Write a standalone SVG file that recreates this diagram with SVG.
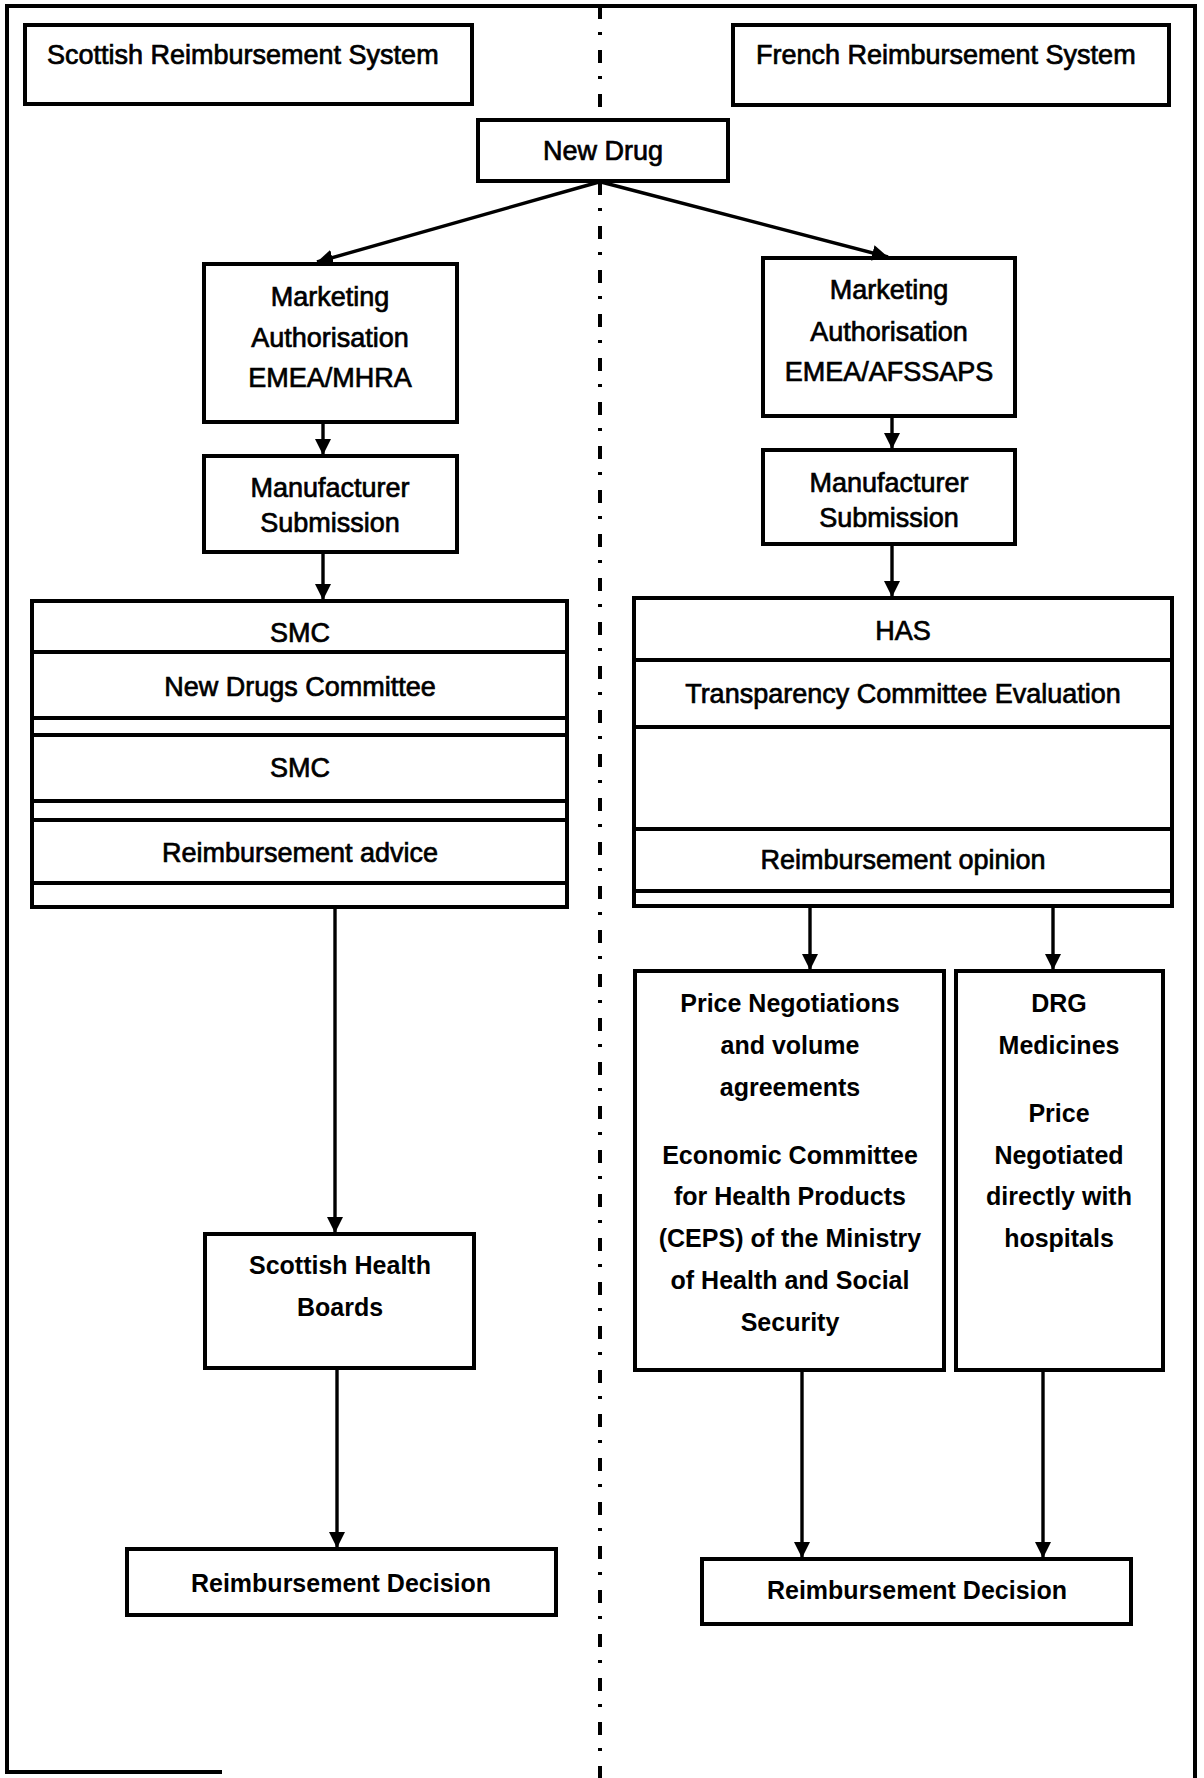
<svg xmlns="http://www.w3.org/2000/svg" width="1204" height="1778" viewBox="0 0 1204 1778">
<defs>
<marker id="ah" markerUnits="userSpaceOnUse" markerWidth="17" markerHeight="16" refX="16" refY="8" orient="auto">
<path d="M0,0 L16,8 L0,16 z" fill="#000"/>
</marker>
<style>
.bx{fill:#fff;stroke:#000;stroke-width:4}
.ln{stroke:#000;stroke-width:4;fill:none}
.t{font-family:"Liberation Sans",Arial,sans-serif;font-size:27px;fill:#000;stroke:#000;stroke-width:0.7;text-anchor:middle}
.ts{font-family:"Liberation Sans",Arial,sans-serif;font-size:27px;fill:#000;stroke:#000;stroke-width:0.7}
.b{font-family:"Liberation Sans",Arial,sans-serif;font-size:25px;font-weight:bold;fill:#000;text-anchor:middle}
.c{stroke:#000;stroke-width:3.4;fill:none;marker-end:url(#ah)}
</style>
</defs>
<rect width="1204" height="1778" fill="#fff"/>
<path d="M222,1772 H7 V6 H1195 V1778" class="ln" stroke-width="3"/>
<line x1="600" y1="6" x2="600" y2="1778" stroke="#000" stroke-width="4" stroke-dasharray="13 13 3 15"/>

<g id="title-scottish">
<rect x="25" y="25" width="447" height="79" class="bx"/>
<text x="47" y="64" class="ts">Scottish Reimbursement System</text>
</g>
<g id="title-french">
<rect x="733" y="25" width="436" height="80" class="bx"/>
<text x="756" y="64" class="ts">French Reimbursement System</text>
</g>
<g id="new-drug">
<rect x="478" y="120" width="250" height="61" class="bx"/>
<text x="603" y="160" class="t">New Drug</text>
</g>

<g id="ma-scot">
<rect x="204" y="264" width="253" height="158" class="bx"/>
<text x="330" y="306" class="t">Marketing</text>
<text x="330" y="347" class="t">Authorisation</text>
<text x="330" y="387" class="t">EMEA/MHRA</text>
</g>
<g id="ma-fr">
<rect x="763" y="258" width="252" height="158" class="bx"/>
<text x="889" y="299" class="t">Marketing</text>
<text x="889" y="341" class="t">Authorisation</text>
<text x="889" y="381" class="t">EMEA/AFSSAPS</text>
</g>
<g id="ms-scot">
<rect x="204" y="456" width="253" height="96" class="bx"/>
<text x="330" y="497" class="t">Manufacturer</text>
<text x="330" y="532" class="t">Submission</text>
</g>
<g id="ms-fr">
<rect x="763" y="450" width="252" height="94" class="bx"/>
<text x="889" y="492" class="t">Manufacturer</text>
<text x="889" y="527" class="t">Submission</text>
</g>

<g id="smc">
<rect x="32" y="601" width="535" height="306" class="bx"/>
<line x1="32" y1="652" x2="567" y2="652" class="ln"/>
<line x1="32" y1="718" x2="567" y2="718" class="ln"/>
<line x1="32" y1="735" x2="567" y2="735" class="ln"/>
<line x1="32" y1="801" x2="567" y2="801" class="ln"/>
<line x1="32" y1="820" x2="567" y2="820" class="ln"/>
<line x1="32" y1="883" x2="567" y2="883" class="ln"/>
<text x="300" y="642" class="t">SMC</text>
<text x="300" y="696" class="t">New Drugs Committee</text>
<text x="300" y="777" class="t">SMC</text>
<text x="300" y="862" class="t">Reimbursement advice</text>
</g>

<g id="has">
<rect x="634" y="598" width="538" height="308" class="bx"/>
<line x1="634" y1="660" x2="1172" y2="660" class="ln"/>
<line x1="634" y1="727" x2="1172" y2="727" class="ln"/>
<line x1="634" y1="829" x2="1172" y2="829" class="ln"/>
<line x1="634" y1="891" x2="1172" y2="891" class="ln"/>
<text x="903" y="640" class="t">HAS</text>
<text x="903" y="703" class="t">Transparency Committee Evaluation</text>
<text x="903" y="869" class="t">Reimbursement opinion</text>
</g>

<g id="health-boards">
<rect x="205" y="1234" width="269" height="134" class="bx"/>
<text x="340" y="1274" class="b">Scottish Health</text>
<text x="340" y="1316" class="b">Boards</text>
</g>
<g id="decision-scot">
<rect x="127" y="1549" width="429" height="66" class="bx"/>
<text x="341" y="1592" class="b">Reimbursement Decision</text>
</g>

<g id="price-neg">
<rect x="635" y="971" width="309" height="399" class="bx"/>
<text x="790" y="1012" class="b">Price Negotiations</text>
<text x="790" y="1054" class="b">and volume</text>
<text x="790" y="1096" class="b">agreements</text>
<text x="790" y="1164" class="b">Economic Committee</text>
<text x="790" y="1205" class="b">for Health Products</text>
<text x="790" y="1247" class="b">(CEPS) of the Ministry</text>
<text x="790" y="1289" class="b">of Health and Social</text>
<text x="790" y="1331" class="b">Security</text>
</g>
<g id="drg">
<rect x="956" y="971" width="207" height="399" class="bx"/>
<text x="1059" y="1012" class="b">DRG</text>
<text x="1059" y="1054" class="b">Medicines</text>
<text x="1059" y="1122" class="b">Price</text>
<text x="1059" y="1164" class="b">Negotiated</text>
<text x="1059" y="1205" class="b">directly with</text>
<text x="1059" y="1247" class="b">hospitals</text>
</g>
<g id="decision-fr">
<rect x="702" y="1559" width="429" height="65" class="bx"/>
<text x="917" y="1599" class="b">Reimbursement Decision</text>
</g>

<g id="connectors">
<line x1="599" y1="182" x2="317" y2="262" class="c"/>
<line x1="601" y1="182" x2="888" y2="257" class="c"/>
<line x1="323" y1="422" x2="323" y2="455" class="c"/>
<line x1="892" y1="416" x2="892" y2="449" class="c"/>
<line x1="323" y1="552" x2="323" y2="600" class="c"/>
<line x1="892" y1="544" x2="892" y2="597" class="c"/>
<line x1="335" y1="907" x2="335" y2="1233" class="c"/>
<line x1="337" y1="1368" x2="337" y2="1548" class="c"/>
<line x1="810" y1="906" x2="810" y2="970" class="c"/>
<line x1="1053" y1="906" x2="1053" y2="970" class="c"/>
<line x1="802" y1="1370" x2="802" y2="1558" class="c"/>
<line x1="1043" y1="1370" x2="1043" y2="1558" class="c"/>
</g>
</svg>
